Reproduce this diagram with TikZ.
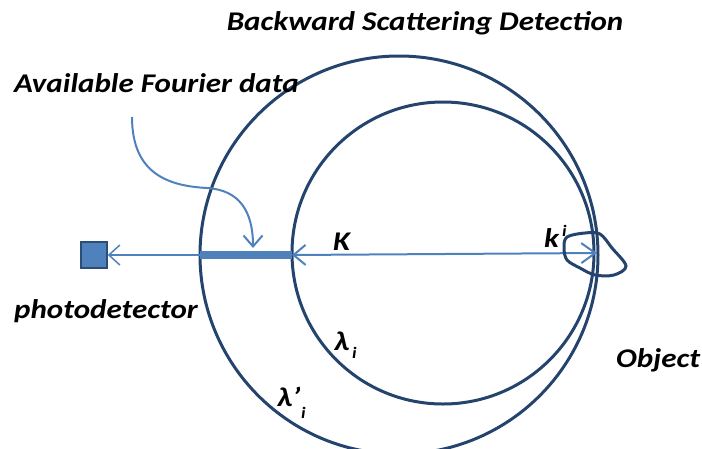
\documentclass[tikz,border=0pt]{standalone}
\usepackage{fontspec}
\setmainfont{Carlito}[FakeStretch=1.15]
\usetikzlibrary{arrows.meta}
\definecolor{darkc}{HTML}{24446E}
\definecolor{bluel}{HTML}{4F81BD}
\definecolor{sqborder}{HTML}{2C4D75}
\begin{document}
\begin{tikzpicture}[x=1pt,y=-1pt,
  lbl/.style={font=\bfseries\itshape\fontsize{27}{32}\selectfont, inner sep=0pt},
  sub/.style={font=\bfseries\itshape\fontsize{16}{19}\selectfont, inner sep=0pt},
  circ/.style={draw=darkc, line width=3pt},
  barb/.style={{Straight Barb[length=11pt,width=20pt]}-, draw=bluel, line width=1.5pt},
  dbarb/.style={{Straight Barb[length=12pt,width=20pt]}-{Straight Barb[length=14pt,width=20pt]}, draw=bluel, line width=2pt},
  tbarb/.style={-{Straight Barb[length=11pt,width=19pt]}, draw=bluel, line width=2pt}]
\useasboundingbox (0,0) rectangle (702,448);
% circles
\draw[circ] (399,255) circle[radius=199];
\draw[circ] (443,253) circle[radius=151];
% coordinates
\coordinate (barL) at (200,255);
\coordinate (barR) at (292,255);
\coordinate (objc) at (597,253);
\coordinate (src) at (132,117);
\coordinate (tgt) at (253,248);
% thick bar
\draw[bluel, line width=8pt] (barL) -- (barR);
% photodetector
\node[draw=sqborder, fill=bluel, line width=1.5pt, minimum size=26pt, inner sep=0pt] (pd) at (94,255) {};
\draw[barb] (pd.east) -- (barL);
% K arrow
\draw[dbarb] (barR) -- (objc);
% curved arrow
\draw[tbarb] (src) .. controls (132,175) and (170,186) .. (207,188) .. controls (240,190) and (253,212) .. (tgt);
% object
\draw[darkc, line width=3pt] plot[smooth cycle, tension=0.55] coordinates {(567,237) (585,233) (600,234) (612,248) (626,266) (614,275) (595,275) (580,268) (567,260) (564,248)};
% texts
\node[lbl, anchor=base] (title) at (425,30) {Backward Scattering Detection};
\node[lbl, anchor=base west] (afd) at (14,92) {Available Fourier data};
\node[lbl, anchor=base west] (phd) at (14,318) {photodetector};
\node[lbl, anchor=base west] (obj) at (616,367) {Object};
\node[lbl, anchor=base west] (K) at (333,250) {K};
\node[lbl, anchor=base west] (k) at (544,247) {k};
\node[sub, anchor=base west] (ksup) at (562,236) {i};
\node[lbl, anchor=base west] (li) at (334,350) {λ};
\node[sub, anchor=base west] (lisub) at (352,358) {i};
\node[lbl, anchor=base west] (lpi) at (277,406) {λ'};
\node[sub, anchor=base west] (lpisub) at (301,418) {i};
\end{tikzpicture}
\end{document}
